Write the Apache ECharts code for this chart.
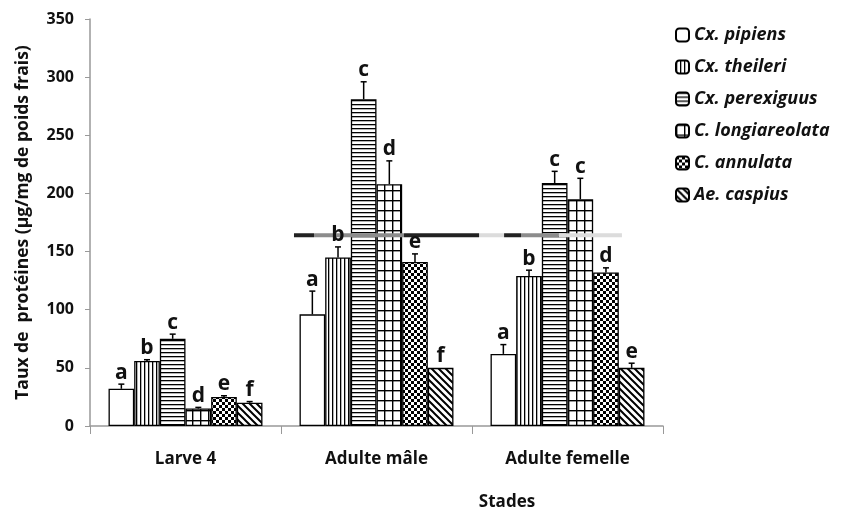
<!DOCTYPE html>
<html><head><meta charset="utf-8">
<script src="https://cdn.jsdelivr.net/npm/echarts@6/dist/echarts.min.js"></script>
<style>html,body{margin:0;padding:0;background:#fff}#c{width:848px;height:512px}</style>
</head><body><div id="c"></div>
<script>
// ---- data ----
const categories = ['Larve 4', 'Adulte mâle', 'Adulte femelle'];
const species = ['Cx. pipiens', 'Cx. theileri', 'Cx. perexiguus', 'C. longiareolata', 'C. annulata', 'Ae. caspius'];
const pipiens       = [32, 96, 62];
const theileri      = [56, 145, 129];
const perexiguus    = [75, 281, 209];
const longiareolata = [15, 208, 195];
const annulata      = [25, 141, 132];
const caspius       = [20, 50, 50];
const errPipiens       = [4, 20, 8];
const errTheileri      = [1, 9, 5];
const errPerexiguus    = [4, 15, 10];
const errLongiareolata = [1, 20, 18];
const errAnnulata      = [1, 7, 4];
const errCaspius       = [1, 0, 4];
const letPipiens       = ['a', 'a', 'a'];
const letTheileri      = ['b', 'b', 'b'];
const letPerexiguus    = ['c', 'c', 'c'];
const letLongiareolata = ['d', 'd', 'c'];
const letAnnulata      = ['e', 'e', 'd'];
const letCaspius       = ['f', 'f', 'e'];
const yTicks = [0, 50, 100, 150, 200, 250, 300, 350];
// scan artefact line (position along groups 0..3, level)
const artefactLevel = 164;
const artefactDark  = [[1.068, 1.173], [1.644, 2.037], [2.168, 2.257]];
const artefactGray  = [[1.173, 1.644], [2.257, 2.455]];
const artefactLight = [[2.037, 2.168], [2.455, 2.785]];

const values = [pipiens, theileri, perexiguus, longiareolata, annulata, caspius];
const errors = [errPipiens, errTheileri, errPerexiguus, errLongiareolata, errAnnulata, errCaspius];
const letters = [letPipiens, letTheileri, letPerexiguus, letLongiareolata, letAnnulata, letCaspius];

// ---- patterns ----
function mk(w, h, draw) {
  const c = document.createElement('canvas'); c.width = w; c.height = h;
  const g = c.getContext('2d'); g.fillStyle = '#fff'; g.fillRect(0, 0, w, h);
  g.fillStyle = '#000'; g.strokeStyle = '#000'; draw(g); return c;
}
const patterns = [
  '#ffffff',
  { image: mk(4, 4, g => g.fillRect(0, 0, 1.3, 4)), repeat: 'repeat' },
  { image: mk(4, 4, g => g.fillRect(0, 0, 4, 1.3)), repeat: 'repeat' },
  { image: mk(8, 10, g => { g.fillRect(0, 0, 1.4, 10); g.fillRect(0, 0, 8, 1.4); }), repeat: 'repeat' },
  { image: mk(6, 6, g => { g.fillRect(0, 0, 3, 3); g.fillRect(3, 3, 3, 3); }), repeat: 'repeat' },
  { image: mk(7, 7, g => { g.lineWidth = 2; g.beginPath(); g.moveTo(-1, -1); g.lineTo(8, 8); g.moveTo(-1, 6); g.lineTo(1, 8); g.moveTo(6, -1); g.lineTo(8, 1); g.stroke(); }), repeat: 'repeat' }
];

const GAP = 0.194;
const FONT = '"Open Sans"';

const barSeries = species.map((name, s) => ({
  name, type: 'bar', data: values[s], barGap: '0%', barCategoryGap: (GAP * 100) + '%',
  itemStyle: { color: patterns[s], borderColor: '#000', borderWidth: 1.3 },
  emphasis: { disabled: true }, z: 2
}));

const errData = [];
values.forEach((vals, s) => vals.forEach((v, c) => errData.push([c, v, errors[s][c], s])));
const errLetters = [];
values.forEach((vals, s) => vals.forEach((v, c) => errLetters.push(letters[s][c])));

const errSeries = {
  type: 'custom', name: 'errors', data: errData, z: 5, silent: true,
  encode: { x: 0, y: 1 },
  renderItem(params, api) {
    const c = api.value(0), v = api.value(1), e = api.value(2), s = api.value(3);
    const band = api.size([1, 0])[0];
    const bw = band * (1 - GAP) / 6;
    const cx = api.coord([c, 0])[0] + (s - 2.5) * bw;
    const yv = api.coord([c, v])[1];
    const yt = api.coord([c, v + e])[1];
    const ch = [];
    if (e > 0) {
      ch.push({ type: 'line', shape: { x1: cx, y1: yv, x2: cx, y2: yt }, style: { stroke: '#000', lineWidth: 1.5 } });
      ch.push({ type: 'line', shape: { x1: cx - 3, y1: yt, x2: cx + 3, y2: yt }, style: { stroke: '#000', lineWidth: 1.5 } });
    }
    ch.push({ type: 'text', style: { x: cx, y: yt - 1, text: errLetters[params.dataIndex], align: 'center', verticalAlign: 'bottom', font: 'bold 21px ' + FONT, fill: '#111' } });
    return { type: 'group', children: ch };
  }
};

function artefact(segs, color) {
  const d = [];
  segs.forEach(([a, b]) => { d.push([a, artefactLevel], [b, artefactLevel], [null, null]); });
  return { type: 'line', xAxisIndex: 1, data: d, symbol: 'none', connectNulls: false, silent: true, z: 4,
    lineStyle: { color, width: 4 }, emphasis: { disabled: true } };
}

const chart = echarts.init(document.getElementById('c'), null, { renderer: 'canvas' });
chart.setOption({
  animation: false,
  backgroundColor: '#fff',
  textStyle: { fontFamily: FONT },
  grid: { left: 90, right: 185, top: 19, bottom: 86 },
  legend: {
    orient: 'vertical', left: 670, top: 20, data: species,
    itemWidth: 13, itemHeight: 13, itemGap: 12, selectedMode: false,
    textStyle: { fontFamily: FONT, fontStyle: 'italic', fontWeight: 'bold', fontSize: 18, color: '#111', lineHeight: 20 }
  },
  title: { text: 'Stades', left: 502, top: 489, textAlign: 'center',
    textStyle: { fontFamily: FONT, fontWeight: 'bold', fontSize: 17, color: '#111' } },
  xAxis: [{
    type: 'category', data: categories,
    axisLine: { lineStyle: { color: '#999', width: 1.5 } },
    axisTick: { show: true, length: 8, lineStyle: { color: '#999' } },
    axisLabel: { margin: 25, fontFamily: FONT, fontWeight: 'bold', fontSize: 17, color: '#111' },
    splitLine: { show: false }
  }, {
    type: 'value', min: 0, max: 3, show: false
  }],
  yAxis: {
    type: 'value', min: yTicks[0], max: yTicks[yTicks.length - 1], interval: 50,
    name: 'Taux de  protéines (µg/mg de poids frais)', nameLocation: 'middle', nameGap: 58,
    nameTextStyle: { fontFamily: FONT, fontWeight: 'bold', fontSize: 17.5, color: '#111' },
    axisLine: { show: true, lineStyle: { color: '#999', width: 1.5 } },
    axisTick: { show: true, length: 5, lineStyle: { color: '#999' } },
    axisLabel: { margin: 16, fontFamily: FONT, fontWeight: 'bold', fontSize: 16, color: '#111' },
    splitLine: { show: false }
  },
  series: [...barSeries, errSeries,
    artefact(artefactLight, '#dcdcdc'), artefact(artefactGray, '#8c8c8c'), artefact(artefactDark, '#222')]
});
</script>
</body></html>
